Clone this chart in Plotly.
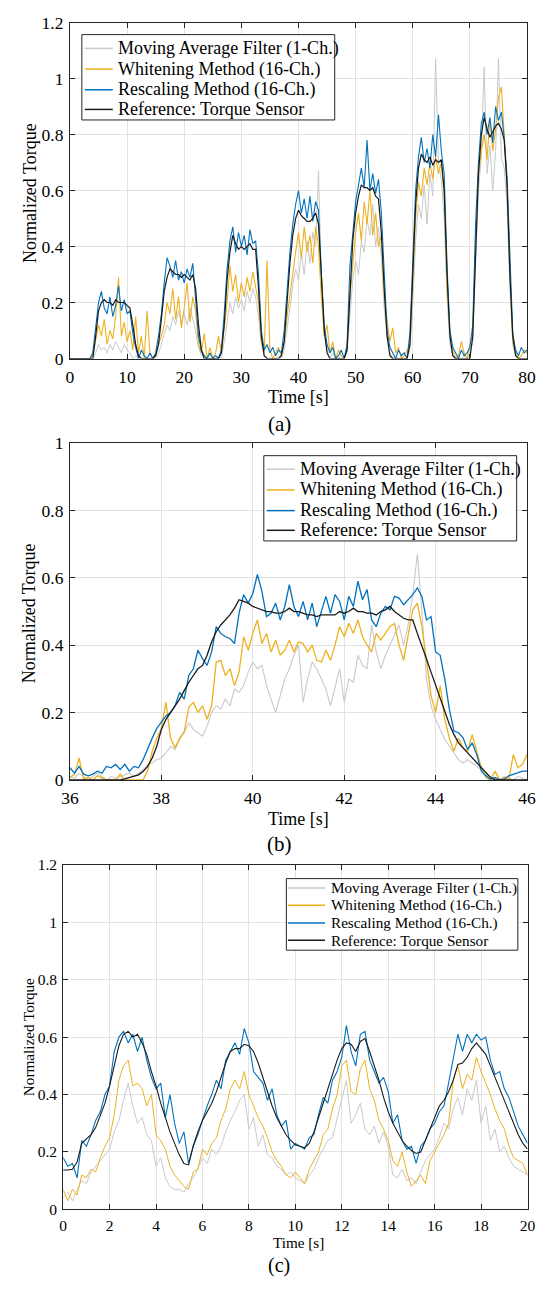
import plotly.graph_objects as go

# ---------------- data ----------------
time_a = [0,0.5,1,1.5,2,2.5,3,3.5,4,4.5,
          5,5.5,6,6.5,7,7.5,8,8.5,9,9.5,
          10,10.5,11,11.5,12,12.5,13,13.5,14,14.5,
          15,15.5,16,16.5,17,17.5,18,18.5,19,19.5,
          20,20.5,21,21.5,22,22.5,23,23.5,24,24.5,
          25,25.5,26,26.5,27,27.5,28,28.5,29,29.5,
          30,30.5,31,31.5,32,32.5,33,33.5,34,34.5,
          35,35.5,36,36.5,37,37.5,38,38.5,39,39.5,
          40,40.5,41,41.5,42,42.5,43,43.5,44,44.5,
          45,45.5,46,46.5,47,47.5,48,48.5,49,49.5,
          50,50.5,51,51.5,52,52.5,53,53.5,54,54.5,
          55,55.5,56,56.5,57,57.5,58,58.5,59,59.5,
          60,60.5,61,61.5,62,62.5,63,63.5,64,64.5,
          65,65.5,66,66.5,67,67.5,68,68.5,69,69.5,
          70,70.5,71,71.5,72,72.5,73,73.5,74,74.5,
          75,75.5,76,76.5,77,77.5,78,78.5,79,79.5,
          80]

moving_avg_a = [0,0,0,0,0,0,0,0,0,0.02,
                0.05,0.03,0.04,0.02,0.05,0.03,0.06,0.04,0.02,0.05,
                0.03,0.02,0.00,0.01,0.00,0.00,0.00,0.00,0.00,0.00,
                0.00,0.02,0.05,0.09,0.12,0.10,0.15,0.12,0.17,0.13,
                0.16,0.12,0.18,0.14,0.10,0.04,0.01,0.00,0.00,0.00,
                0.00,0.00,0.01,0.00,0.06,0.14,0.20,0.16,0.22,0.18,
                0.21,0.17,0.24,0.20,0.25,0.22,0.15,0.05,0.01,0.00,
                0.00,0.00,0.00,0.01,0.00,0.03,0.10,0.18,0.26,0.32,
                0.28,0.38,0.30,0.42,0.34,0.45,0.40,0.67,0.30,0.10,
                0.03,0.00,0.02,0.00,0.00,0.01,0.00,0.02,0.15,0.28,
                0.35,0.30,0.42,0.38,0.50,0.44,0.55,0.40,0.47,0.36,
                0.18,0.08,0.02,0.00,0.01,0.00,0.00,0.00,0.00,0.03,
                0.20,0.42,0.55,0.50,0.62,0.48,0.66,0.58,1.07,0.70,
                0.64,0.50,0.22,0.05,0.01,0.00,0.00,0.00,0.01,0.00,
                0.02,0.06,0.35,0.60,0.72,1.04,0.66,0.76,0.60,0.74,
                1.07,0.72,0.68,0.55,0.25,0.05,0.01,0.00,0.00,0.00,
                0.00]

whitening_a = [0,0,0,0,0,0,0,0,0.01,0.06,
               0.12,0.08,0.14,0.05,0.10,0.07,0.15,0.29,0.08,0.13,
               0.06,0.10,0.03,0.15,0.02,0.08,0.00,0.17,0.02,0.00,
               0.01,0.05,0.08,0.12,0.20,0.16,0.25,0.14,0.22,0.11,
               0.18,0.27,0.13,0.22,0.17,0.05,0.02,0.09,0.00,0.04,
               0.00,0.02,0.08,0.02,0.10,0.20,0.33,0.24,0.30,0.20,
               0.27,0.22,0.29,0.24,0.31,0.25,0.20,0.06,0.02,0.35,
               0.03,0.00,0.02,0.04,0.01,0.06,0.15,0.23,0.32,0.38,
               0.45,0.36,0.47,0.38,0.44,0.34,0.47,0.40,0.22,0.08,
               0.12,0.02,0.06,0.00,0.03,0.01,0.00,0.04,0.22,0.35,
               0.45,0.52,0.42,0.56,0.48,0.60,0.44,0.52,0.40,0.44,
               0.22,0.14,0.06,0.11,0.02,0.04,0.00,0.01,0.03,0.04,
               0.25,0.50,0.63,0.58,0.68,0.62,0.70,0.64,0.72,0.66,
               0.70,0.58,0.25,0.10,0.03,0.00,0.01,0.06,0.02,0.00,
               0.05,0.09,0.42,0.65,0.74,0.80,0.71,0.86,0.74,0.82,
               0.93,0.97,0.80,0.62,0.30,0.06,0.02,0.00,0.01,0.03,
               0.02]

rescaling_a = [0,0,0,0,0,0,0,0,0.02,0.11,
               0.20,0.24,0.18,0.16,0.22,0.15,0.19,0.26,0.17,0.21,
               0.16,0.17,0.09,0.04,0.00,0.03,0.01,0.00,0.02,0.00,
               0.02,0.08,0.16,0.27,0.36,0.33,0.29,0.35,0.28,0.31,
               0.27,0.32,0.29,0.34,0.22,0.08,0.03,0.01,0.00,0.02,
               0.00,0.01,0.00,0.03,0.16,0.32,0.42,0.47,0.38,0.45,
               0.40,0.44,0.37,0.46,0.41,0.42,0.30,0.10,0.03,0.05,
               0.02,0.04,0.01,0.03,0.02,0.10,0.24,0.38,0.48,0.55,
               0.60,0.52,0.57,0.50,0.58,0.49,0.56,0.53,0.30,0.12,
               0.05,0.02,0.04,0.00,0.01,0.03,0.00,0.05,0.33,0.45,
               0.56,0.62,0.68,0.61,0.78,0.60,0.66,0.59,0.64,0.52,
               0.28,0.10,0.04,0.02,0.00,0.03,0.01,0.02,0.00,0.09,
               0.38,0.60,0.72,0.79,0.70,0.75,0.68,0.80,0.72,0.87,
               0.74,0.66,0.33,0.10,0.04,0.02,0.00,0.03,0.01,0.02,
               0.04,0.12,0.48,0.70,0.84,0.88,0.80,0.86,0.77,0.90,
               0.85,0.88,0.79,0.65,0.33,0.09,0.03,0.01,0.04,0.02,
               0.03]

reference_a = [0,0,0,0,0,0,0,0,0,0.08,
               0.17,0.20,0.21,0.20,0.20,0.19,0.21,0.20,0.20,0.20,
               0.19,0.18,0.12,0.05,0.01,0,0,0,0,0,
               0.01,0.05,0.14,0.24,0.29,0.32,0.31,0.30,0.30,0.29,
               0.30,0.29,0.28,0.30,0.25,0.12,0.03,0,0,0,
               0,0,0,0.02,0.12,0.28,0.38,0.44,0.41,0.39,
               0.40,0.39,0.40,0.41,0.39,0.39,0.25,0.08,0.01,0,
               0,0,0,0,0.01,0.06,0.20,0.34,0.44,0.50,
               0.53,0.51,0.50,0.49,0.49,0.50,0.52,0.48,0.30,0.10,
               0.02,0,0,0,0,0,0,0.03,0.25,0.42,
               0.52,0.58,0.62,0.61,0.61,0.60,0.61,0.58,0.57,0.45,
               0.25,0.08,0.01,0,0,0,0,0,0,0.05,
               0.30,0.55,0.68,0.73,0.71,0.70,0.72,0.69,0.71,0.70,
               0.71,0.60,0.30,0.08,0.01,0,0,0,0,0,
               0,0.08,0.40,0.66,0.80,0.86,0.82,0.79,0.81,0.83,
               0.84,0.82,0.78,0.62,0.30,0.08,0.01,0,0,0,
               0]

time_b = [36.0,36.1,36.2,36.3,36.4,36.5,36.6,36.7,36.8,36.9,
          37.0,37.1,37.2,37.3,37.4,37.5,37.6,37.7,37.8,37.9,
          38.0,38.1,38.2,38.3,38.4,38.5,38.6,38.7,38.8,38.9,
          39.0,39.1,39.2,39.3,39.4,39.5,39.6,39.7,39.8,39.9,
          40.0,40.1,40.2,40.3,40.4,40.5,40.6,40.7,40.8,40.9,
          41.0,41.1,41.2,41.3,41.4,41.5,41.6,41.7,41.8,41.9,
          42.0,42.1,42.2,42.3,42.4,42.5,42.6,42.7,42.8,42.9,
          43.0,43.1,43.2,43.3,43.4,43.5,43.6,43.7,43.8,43.9,
          44.0,44.1,44.2,44.3,44.4,44.5,44.6,44.7,44.8,44.9,
          45.0,45.1,45.2,45.3,45.4,45.5,45.6,45.7,45.8,45.9,
          46.0]

moving_avg_b = [0.01,0.005,0.02,0.01,0.0,0.01,0.02,0.01,0.0,0.01,
                0.005,0.01,0.015,0.02,0.01,0.02,0.03,0.045,0.05,0.06,
                0.065,0.08,0.10,0.09,0.12,0.14,0.17,0.15,0.14,0.13,
                0.16,0.20,0.22,0.21,0.24,0.22,0.27,0.26,0.28,0.32,
                0.35,0.33,0.34,0.28,0.24,0.20,0.25,0.30,0.33,0.37,
                0.40,0.23,0.30,0.35,0.33,0.30,0.27,0.22,0.28,0.33,
                0.23,0.30,0.29,0.37,0.34,0.33,0.46,0.38,0.33,0.37,
                0.40,0.43,0.46,0.40,0.46,0.55,0.67,0.50,0.30,0.22,
                0.18,0.15,0.12,0.10,0.08,0.06,0.05,0.06,0.05,0.04,
                0.03,0.015,0.01,0.005,0.0,0.01,0.005,0.0,0.01,0.005,
                0.0]

whitening_b = [0.007,0.017,0.065,0.002,0.007,0,0.012,0.007,0,0,
               0,0.017,0,0,0,0,0,0.026,0.085,0.124,
               0.153,0.23,0.124,0.095,0.124,0.143,0.215,0.23,0.20,0.22,
               0.18,0.22,0.35,0.355,0.31,0.33,0.28,0.32,0.425,0.385,
               0.435,0.475,0.405,0.435,0.38,0.415,0.37,0.385,0.415,0.38,
               0.41,0.405,0.38,0.40,0.355,0.35,0.385,0.355,0.40,0.455,
               0.425,0.465,0.435,0.475,0.425,0.40,0.38,0.435,0.415,0.435,
               0.455,0.465,0.40,0.355,0.435,0.505,0.525,0.455,0.355,0.25,
               0.20,0.28,0.18,0.124,0.085,0.124,0.095,0.085,0.134,0.085,
               0.036,0.007,0,0.026,0,0.007,0,0.075,0.036,0.046,
               0.075]

rescaling_b = [0.036,0.02,0.04,0.017,0.012,0.017,0.026,0.02,0.04,0.036,
               0.046,0.031,0.046,0.026,0.04,0.036,0.06,0.095,0.124,0.153,
               0.17,0.19,0.20,0.22,0.26,0.24,0.31,0.33,0.385,0.36,
               0.34,0.38,0.455,0.435,0.425,0.42,0.405,0.495,0.55,0.525,
               0.553,0.61,0.56,0.485,0.495,0.525,0.475,0.515,0.58,0.515,
               0.485,0.53,0.475,0.525,0.455,0.50,0.545,0.495,0.55,0.53,
               0.475,0.545,0.515,0.59,0.535,0.565,0.475,0.455,0.495,0.515,
               0.505,0.545,0.54,0.52,0.535,0.55,0.57,0.545,0.475,0.485,
               0.38,0.37,0.30,0.21,0.145,0.14,0.125,0.09,0.11,0.075,
               0.026,0.012,0.002,0.007,0,0.002,0.012,0.017,0.02,0.026,
               0.026]

reference_b = [0,0,0,0,0,0,0,0,0,0,
               0,0,0.003,0.007,0.01,0.015,0.025,0.04,0.065,0.10,
               0.15,0.18,0.20,0.22,0.24,0.265,0.29,0.31,0.33,0.34,
               0.37,0.41,0.44,0.46,0.475,0.49,0.51,0.535,0.53,0.525,
               0.515,0.51,0.505,0.50,0.50,0.495,0.495,0.50,0.51,0.50,
               0.50,0.495,0.49,0.49,0.485,0.49,0.49,0.49,0.49,0.50,
               0.495,0.50,0.51,0.50,0.50,0.495,0.495,0.49,0.50,0.505,
               0.515,0.50,0.49,0.48,0.475,0.475,0.435,0.40,0.36,0.32,
               0.28,0.24,0.20,0.165,0.135,0.11,0.095,0.08,0.065,0.05,
               0.035,0.02,0.007,0,0,0,0,0,0,0,
               0]

time_c = [0,0.2,0.4,0.6,0.8,1.0,1.2,1.4,1.6,1.8,
          2.0,2.2,2.4,2.6,2.8,3.0,3.2,3.4,3.6,3.8,
          4.0,4.2,4.4,4.6,4.8,5.0,5.2,5.4,5.6,5.8,
          6.0,6.2,6.4,6.6,6.8,7.0,7.2,7.4,7.6,7.8,
          8.0,8.2,8.4,8.6,8.8,9.0,9.2,9.4,9.6,9.8,
          10.0,10.2,10.4,10.6,10.8,11.0,11.2,11.4,11.6,11.8,
          12.0,12.2,12.4,12.6,12.8,13.0,13.2,13.4,13.6,13.8,
          14.0,14.2,14.4,14.6,14.8,15.0,15.2,15.4,15.6,15.8,
          16.0,16.2,16.4,16.6,16.8,17.0,17.2,17.4,17.6,17.8,
          18.0,18.2,18.4,18.6,18.8,19.0,19.2,19.4,19.6,19.8,
          20.0]

moving_avg_c = [0.04,0.06,0.03,0.07,0.10,0.09,0.13,0.15,0.17,0.19,
                0.21,0.27,0.31,0.38,0.44,0.36,0.30,0.32,0.26,0.24,
                0.15,0.18,0.11,0.08,0.07,0.07,0.06,0.09,0.11,0.14,
                0.18,0.16,0.21,0.19,0.22,0.27,0.31,0.34,0.38,0.40,
                0.28,0.32,0.22,0.26,0.19,0.18,0.15,0.14,0.12,0.13,
                0.11,0.10,0.09,0.12,0.14,0.18,0.21,0.24,0.25,0.32,
                0.38,0.45,0.30,0.33,0.37,0.28,0.26,0.29,0.23,0.27,
                0.22,0.12,0.11,0.14,0.10,0.11,0.09,0.13,0.17,0.19,
                0.21,0.25,0.30,0.28,0.35,0.39,0.33,0.42,0.38,0.45,
                0.30,0.36,0.24,0.28,0.20,0.22,0.18,0.15,0.14,0.13,
                0.12]

whitening_c = [0.07,0.03,0.07,0.05,0.12,0.11,0.14,0.13,0.18,0.22,
               0.25,0.33,0.45,0.50,0.52,0.43,0.44,0.42,0.36,0.40,
               0.26,0.24,0.21,0.15,0.12,0.10,0.08,0.07,0.13,0.14,
               0.21,0.19,0.23,0.25,0.31,0.35,0.42,0.45,0.42,0.48,
               0.40,0.36,0.32,0.29,0.25,0.20,0.17,0.15,0.12,0.11,
               0.13,0.11,0.09,0.14,0.17,0.20,0.26,0.28,0.35,0.40,
               0.50,0.52,0.41,0.40,0.49,0.52,0.42,0.38,0.31,0.28,
               0.24,0.17,0.15,0.20,0.13,0.08,0.10,0.12,0.09,0.17,
               0.20,0.23,0.26,0.30,0.45,0.50,0.42,0.47,0.45,0.53,
               0.48,0.44,0.40,0.35,0.31,0.28,0.22,0.18,0.17,0.16,
               0.12]

rescaling_c = [0.18,0.15,0.16,0.11,0.24,0.22,0.26,0.31,0.34,0.40,
               0.43,0.55,0.60,0.62,0.58,0.61,0.55,0.60,0.52,0.46,
               0.42,0.44,0.32,0.40,0.30,0.23,0.27,0.16,0.22,0.26,
               0.31,0.36,0.40,0.45,0.42,0.52,0.55,0.58,0.54,0.63,
               0.58,0.48,0.46,0.44,0.38,0.42,0.33,0.29,0.31,0.21,
               0.23,0.22,0.21,0.25,0.26,0.33,0.39,0.37,0.45,0.48,
               0.53,0.64,0.55,0.50,0.61,0.62,0.52,0.48,0.44,0.46,
               0.41,0.30,0.33,0.24,0.21,0.22,0.16,0.22,0.24,0.28,
               0.30,0.34,0.36,0.44,0.52,0.61,0.55,0.61,0.58,0.61,
               0.59,0.60,0.52,0.47,0.48,0.42,0.39,0.34,0.29,0.26,
               0.23]

reference_c = [0.137,0.137,0.14,0.165,0.23,0.245,0.26,0.285,0.325,0.37,
               0.43,0.50,0.57,0.61,0.62,0.60,0.61,0.58,0.54,0.48,
               0.43,0.37,0.32,0.27,0.23,0.19,0.16,0.155,0.22,0.27,
               0.31,0.34,0.37,0.41,0.46,0.51,0.55,0.56,0.56,0.575,
               0.57,0.55,0.51,0.46,0.41,0.36,0.32,0.29,0.26,0.24,
               0.225,0.22,0.215,0.23,0.27,0.32,0.37,0.42,0.47,0.52,
               0.56,0.58,0.575,0.55,0.585,0.595,0.55,0.50,0.45,0.39,
               0.34,0.30,0.27,0.24,0.22,0.205,0.195,0.20,0.24,0.28,
               0.32,0.36,0.38,0.41,0.45,0.505,0.51,0.53,0.56,0.58,
               0.56,0.54,0.50,0.46,0.42,0.38,0.34,0.30,0.26,0.23,
               0.21]

series_names = ["Moving Average Filter (1-Ch.)", "Whitening Method (16-Ch.)",
                "Rescaling Method (16-Ch.)", "Reference: Torque Sensor"]
panel_labels = ["(a)", "(b)", "(c)"]
x_title = "Time [s]"
y_title = "Normalized Torque"

# ---------------- style ----------------
W, H = 552, 1290
FONT = "Liberation Serif, Times New Roman, serif"
COLORS = ["#c9c9c9", "#EDB120", "#0072BD", "#1a1a1a"]
AXCOL = "#262626"
GRID = "#e2e2e2"


def X(px):
    return px / W


def Y(py):
    return 1 - py / H


fig = go.Figure()

panels = [
    dict(t=time_a, ys=[moving_avg_a, whitening_a, rescaling_a, reference_a],
         xr=[0, 80], dx=10, yr=[0, 1.2], left=63, right=535.5, top=12.7, bottom=354,
         tick=17.5, font=18, lw=[1.0, 1.1, 1.1, 1.2],
         leg=dict(box=(75.3, 25, 336.7, 111.7), s0=78.3, s1=107.3, tx=110.7,
                  rows=(39, 60, 81, 101), fs=18),
         ytx=21.7, yty=186, xtx=299, xty=393, lx=280, ly=421, lfs=21),
    dict(t=time_b, ys=[moving_avg_b, whitening_b, rescaling_b, reference_b],
         xr=[36, 46], dx=2, yr=[0, 1], left=63, right=535.5, top=440, bottom=782,
         tick=17.5, font=18, lw=[1.1, 1.3, 1.3, 1.3],
         leg=dict(box=(263.4, 452.7, 524.8, 539.3), s0=266.4, s1=295.4, tx=298.8,
                  rows=(466.5, 487.5, 508.5, 528.5), fs=18),
         ytx=21, yty=612.5, xtx=299, xty=822, lx=280, ly=847, lfs=21),
    dict(t=time_c, ys=[moving_avg_c, whitening_c, rescaling_c, reference_c],
         xr=[0, 20], dx=2, yr=[0, 1.2], left=56, right=536, top=868.3, bottom=1218.3,
         tick=15.5, font=15.2, lw=[1.0, 1.0, 1.1, 1.1],
         leg=dict(box=(286.7, 882.3, 526, 955), s0=288.3, s1=326.7, tx=330.7,
                  rows=(891.7, 909.3, 927.3, 945), fs=15.2),
         ytx=20, yty=1043, xtx=299, xty=1252, lx=279, ly=1275, lfs=20),
]

shapes = []
annotations = []
layout_axes = {}

for i, p in enumerate(panels):
    n = i + 1
    xa = "x" if n == 1 else f"x{n}"
    ya = "y" if n == 1 else f"y{n}"
    for k in range(4):
        fig.add_trace(go.Scatter(
            x=p["t"], y=p["ys"][k], mode="lines", name=series_names[k],
            line=dict(color=COLORS[k], width=p["lw"][k]),
            xaxis=xa, yaxis=ya, showlegend=False, hoverinfo="skip"))

    common = dict(showline=True, linecolor=AXCOL, linewidth=1, mirror="ticks",
                  ticks="inside", ticklen=5, tickwidth=1, tickcolor=AXCOL,
                  showgrid=True, gridcolor=GRID, gridwidth=1, zeroline=False,
                  tickfont=dict(family=FONT, size=p["tick"], color="#000000"))
    layout_axes["xaxis" if n == 1 else f"xaxis{n}"] = dict(
        common, domain=[X(p["left"]), X(p["right"])], range=p["xr"], dtick=p["dx"],
        tick0=p["xr"][0], anchor=ya, ticklabelstandoff=2)
    layout_axes["yaxis" if n == 1 else f"yaxis{n}"] = dict(
        common, domain=[Y(p["bottom"]), Y(p["top"])], range=p["yr"], dtick=0.2,
        tick0=0, anchor=xa, ticklabelstandoff=2)

    # legend box
    L = p["leg"]
    x0, y0, x1, y1 = L["box"]
    shapes.append(dict(type="rect", xref="paper", yref="paper",
                       x0=X(x0), x1=X(x1), y0=Y(y1), y1=Y(y0),
                       line=dict(color=AXCOL, width=1), fillcolor="white", layer="above"))
    for k in range(4):
        ry = L["rows"][k]
        shapes.append(dict(type="line", xref="paper", yref="paper",
                           x0=X(L["s0"]), x1=X(L["s1"]), y0=Y(ry), y1=Y(ry),
                           line=dict(color=COLORS[k], width=1.5), layer="above"))
        annotations.append(dict(text=series_names[k], xref="paper", yref="paper",
                                x=X(L["tx"]), y=Y(ry), xanchor="left", yanchor="middle",
                                showarrow=False, font=dict(family=FONT, size=L["fs"], color="#000000")))
    # axis titles & panel label
    annotations.append(dict(text=y_title, xref="paper", yref="paper", x=X(p["ytx"]), y=Y(p["yty"]),
                            xanchor="center", yanchor="middle", textangle=-90, showarrow=False,
                            font=dict(family=FONT, size=p["font"], color="#000000")))
    annotations.append(dict(text=x_title, xref="paper", yref="paper", x=X(p["xtx"]), y=Y(p["xty"]),
                            xanchor="center", yanchor="middle", showarrow=False,
                            font=dict(family=FONT, size=p["font"], color="#000000")))
    annotations.append(dict(text=panel_labels[i], xref="paper", yref="paper", x=X(p["lx"]), y=Y(p["ly"]),
                            xanchor="center", yanchor="middle", showarrow=False,
                            font=dict(family=FONT, size=p["lfs"], color="#000000")))

fig.update_layout(
    width=W, height=H, margin=dict(l=0, r=0, t=0, b=0),
    paper_bgcolor="white", plot_bgcolor="white",
    showlegend=False, shapes=shapes, annotations=annotations,
    **layout_axes)

fig.write_html("out.html", config={"displayModeBar": False, "staticPlot": True},
               post_script="document.body.style.margin='0px';")
